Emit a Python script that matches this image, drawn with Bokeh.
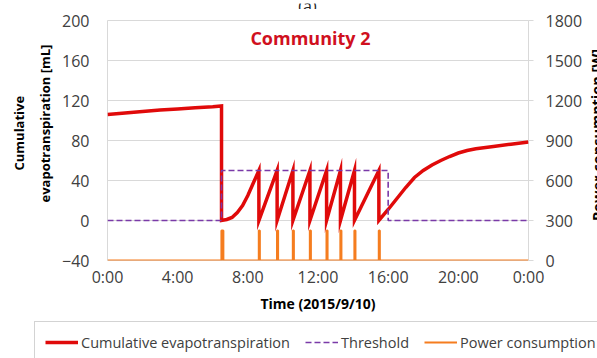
from bokeh.plotting import figure
from bokeh.layouts import column, row
from bokeh.models import Range1d, LinearAxis, FixedTicker, Label, Legend, LegendItem, Title
from bokeh.embed import file_html
from bokeh.resources import INLINE

# axis ticks
hour_ticks = [0, 4, 8, 12, 16, 20, 24]
hour_labels = ["0:00", "4:00", "8:00", "12:00", "16:00", "20:00", "0:00"]
et_ticks = [-40, 0, 40, 80, 120, 160, 200]
power_ticks = [0, 300, 600, 900, 1200, 1500, 1800]

# cumulative evapotranspiration [mL]
morning_t = [0, 1, 2, 3, 4, 5, 6, 6.5]
morning_v = [106, 107.6, 109.1, 110.4, 111.6, 112.7, 113.7, 114.5]
first_rise_t = [6.5, 6.8, 7.1, 7.4, 7.7, 8.0, 8.3, 8.63]
first_rise_v = [0, 1, 3, 8, 15, 25, 37, 50]
irrigation_t = [8.63, 9.67, 10.57, 11.54, 12.49, 13.28, 14.08, 15.47]
irrigation_peak = [50, 50, 50, 50, 50, 50, 50, 50]
evening_t = [15.47, 16, 16.5, 17, 17.5, 18, 18.5, 19, 19.5, 20, 20.5, 21, 22, 23, 24]
evening_v = [0, 11, 22, 33, 43, 50, 55.5, 60, 64, 67.5, 70, 71.8, 74, 76.3, 78.5]

# irrigation threshold [mL]
threshold_t = [0, 6.5, 6.5, 16, 16, 24]
threshold_v = [0, 0, 50, 50, 0, 0]

# pump power consumption [W]
pulse_on = [6.5, 8.63, 9.67, 10.57, 11.54, 12.49, 13.28, 14.08, 15.47]
pulse_off = [6.6, 8.68, 9.72, 10.62, 11.59, 12.54, 13.33, 14.13, 15.52]
pulse_w = [225, 225, 225, 225, 225, 225, 225, 225, 225]

# assemble the sawtooth of the evapotranspiration curve
et_t = morning_t + first_rise_t
et_v = morning_v + first_rise_v
for k in range(len(irrigation_t) - 1):
    et_t += [irrigation_t[k], irrigation_t[k + 1]]
    et_v += [0, irrigation_peak[k + 1]]
et_t += evening_t
et_v += evening_v

# assemble the pump pulses
pw_t, pw_v = [0], [0]
for on, off, w in zip(pulse_on, pulse_off, pulse_w):
    pw_t += [on, on, off, off]
    pw_v += [0, w, w, 0]
pw_t.append(24)
pw_v.append(0)

FONT = "Open Sans"
RED = "#e00a0a"
PURPLE = "#7a3aa8"
ORANGE = "#f57d1f"
GRID = "#d9d9d9"
TICK_TXT = "#404040"


def blank(width, height):
    """A bare figure whose data units are its own pixels."""
    f = figure(width=width, height=height, output_backend="svg", toolbar_location=None,
               x_range=Range1d(0, width), y_range=Range1d(0, height),
               x_axis_location=None, y_axis_location=None, min_border=0,
               min_border_left=0, min_border_right=0, min_border_top=0, min_border_bottom=0)
    f.outline_line_color = None
    f.grid.grid_line_color = None
    return f


# main chart
p = figure(width=590, height=306, output_backend="svg", toolbar_location=None,
           x_range=Range1d(0, 24), y_range=Range1d(-40, 200),
           min_border_left=107, min_border_right=62, min_border_top=11, min_border_bottom=53)
p.outline_line_color = GRID
p.extra_y_ranges = {"power": Range1d(0, 1800)}

p.xaxis.ticker = FixedTicker(ticks=hour_ticks)
p.xaxis.major_label_overrides = {t: lab for t, lab in zip(hour_ticks, hour_labels)}
p.yaxis.ticker = FixedTicker(ticks=et_ticks)
for ax in (p.xaxis[0], p.yaxis[0]):
    ax.axis_line_color = None
    ax.major_tick_line_color = None
    ax.minor_tick_line_color = None
    ax.major_tick_out = 0
    ax.major_label_text_font = FONT
    ax.major_label_text_font_size = "16px"
    ax.major_label_text_color = TICK_TXT
p.yaxis.major_label_standoff = 18
p.xaxis.major_label_standoff = 5
p.xaxis.axis_label = "Time (2015/9/10)"
p.xaxis.axis_label_standoff = 3
p.xaxis.axis_label_text_font = FONT
p.xaxis.axis_label_text_font_size = "14px"
p.xaxis.axis_label_text_font_style = "bold"
p.xaxis.axis_label_text_color = "black"

right = LinearAxis(y_range_name="power", ticker=FixedTicker(ticks=power_ticks))
right.axis_line_color = None
right.minor_tick_line_color = None
right.major_tick_line_color = GRID
right.major_tick_in = 0
right.major_tick_out = 5
right.major_label_standoff = 12
right.major_label_text_font = FONT
right.major_label_text_font_size = "16px"
right.major_label_text_color = TICK_TXT
p.add_layout(right, "right")

p.xgrid.grid_line_color = None
p.ygrid.grid_line_color = GRID
p.ygrid.grid_line_width = 1

# left axis title, two lines (offset measured up from the frame bottom)
for txt, off, sd in (("evapotranspiration [mL]", 58, 12), ("Cumulative", 90, 0)):
    p.add_layout(Title(text=txt, align="left", offset=off, standoff=sd, text_font=FONT,
                       text_font_size="13px", text_font_style="bold", text_color="black"), "left")

# series
r_et = p.line(et_t, et_v, line_color=RED, line_width=3.5, line_join="miter")
r_thr = p.line(threshold_t, threshold_v, line_color=PURPLE, line_width=1.6, line_dash="6 3")
r_pw = p.line(pw_t, pw_v, y_range_name="power", line_color=ORANGE, line_width=2.2)

p.add_layout(Label(x=11.57, y=183, text="Community 2", text_font=FONT, text_font_size="18px",
                   text_font_style="bold", text_color="#d0101e", text_align="center",
                   text_baseline="middle"))

# panel label above the chart (runs off the top edge)
top = blank(597, 9)
top.add_layout(Label(x=307, y=7, text="(a)", text_font=FONT, text_font_size="16px",
                     text_color="#222222", text_align="center", text_baseline="alphabetic"))

# right axis title (runs off the right edge)
side = blank(7, 306)
side.add_layout(Label(x=-3, y=160, text="Power consumption [W]", text_font=FONT,
                      text_font_size="14.5px", text_font_style="bold", text_color="black",
                      text_align="center", text_baseline="top", angle=1.5708))

# legend strip
leg = blank(597, 43)
l_et = leg.line([-20, -10], [-20, -20], line_color=RED, line_width=3.5)
l_thr = leg.line([-20, -10], [-20, -20], line_color=PURPLE, line_width=1.6, line_dash="6 3")
l_pw = leg.line([-20, -10], [-20, -20], line_color=ORANGE, line_width=2.2)
legend = Legend(items=[LegendItem(label="Cumulative evapotranspiration", renderers=[l_et]),
                       LegendItem(label="Threshold", renderers=[l_thr]),
                       LegendItem(label="Power consumption", renderers=[l_pw])],
                location=(34, -5), orientation="horizontal")
legend.label_text_font = FONT
legend.label_text_font_size = "14.5px"
legend.label_text_color = TICK_TXT
legend.glyph_width = 33
legend.glyph_height = 20
legend.label_standoff = 3
legend.spacing = 15
legend.padding = 10
legend.margin = 0
legend.border_line_color = "#a8a8a8"
legend.border_line_width = 1
legend.background_fill_color = "white"
leg.add_layout(legend)

layout = column(top, row(p, side), leg)
open("out.html", "w").write(file_html(layout, INLINE))
